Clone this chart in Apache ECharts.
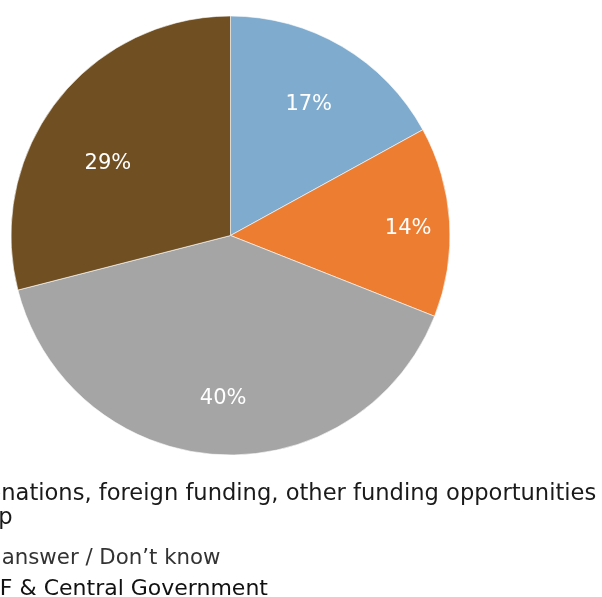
<!DOCTYPE html>
<html>
<head>
<meta charset="utf-8">
<script src="https://cdn.jsdelivr.net/npm/echarts@6/dist/echarts.min.js"></script>
<style>
  html, body { margin: 0; padding: 0; background: #fff; }
  #chart { width: 602px; height: 597px; }
</style>
</head>
<body>
<div id="chart"></div>
<script>
// Funding sources, share of respondents (clockwise from 12 o'clock)
const categories = [
  'Own resources',
  'Donations, foreign funding, other funding opportunities\napp',
  'No answer / Don\u2019t know',
  'ESF & Central Government'
];
const shares = [17, 14, 40, 29];
const colors = ['#7facce', '#ed7d31', '#a5a5a5', '#704f22'];

// Where each value label sits: fraction of radius and small angular nudge (deg)
const labelRadius = [0.70, 0.81, 0.74, 0.65];
const labelNudge = [0, 1, -1, -7];

const FONT = '"DejaVu Sans", "Open Sans", sans-serif';
const CX = 230.5, CY = 235.5, R = 219.5;

// cumulative mid angles (degrees clockwise from top)
const total = shares.reduce((a, b) => a + b, 0);
const midAngles = [];
let acc = 0;
shares.forEach(v => { midAngles.push((acc + v / 2) / total * 360); acc += v; });

const chart = echarts.init(document.getElementById('chart'), null, { renderer: 'canvas' });

// one legend block per entry so each row can be placed on its own
const legendRows = [
  { name: categories[1], top: 482, left: -51, size: 22.6, color: '#1a1a1a' },
  { name: categories[2], top: 546, left: -55, size: 21.3, color: '#333333' },
  { name: categories[3], top: 577, left: -49, size: 22,   color: '#111111' },
  { name: categories[0], top: 612, left: -49, size: 22,   color: '#111111' }
];

chart.setOption({
  animation: false,
  color: colors,
  legend: legendRows.map(r => ({
    data: [r.name],
    orient: 'vertical',
    left: r.left,
    top: r.top,
    itemWidth: 14,
    itemHeight: 14,
    itemGap: 8,
    padding: 0,
    icon: 'rect',
    textStyle: { fontFamily: FONT, fontSize: r.size, lineHeight: 24, color: r.color, padding: [0, 0, 0, 1] }
  })),
  series: [{
    type: 'pie',
    center: [CX, CY],
    radius: R,
    startAngle: 90,
    clockwise: true,
    silent: true,
    itemStyle: { borderColor: '#ffffff', borderWidth: 0.6 },
    label: {
      show: true,
      position: 'inside',
      formatter: '{c}%',
      color: '#ffffff',
      fontFamily: FONT,
      fontSize: 21
    },
    labelLine: { show: false },
    labelLayout: function (p) {
      const i = p.dataIndex;
      const a = (midAngles[i] + labelNudge[i]) * Math.PI / 180;
      const r = R * labelRadius[i];
      return {
        x: CX + r * Math.sin(a),
        y: CY - r * Math.cos(a) + 1,
        align: 'center',
        verticalAlign: 'middle'
      };
    },
    data: categories.map((n, i) => ({ name: n, value: shares[i] }))
  }]
});
</script>
</body>
</html>
